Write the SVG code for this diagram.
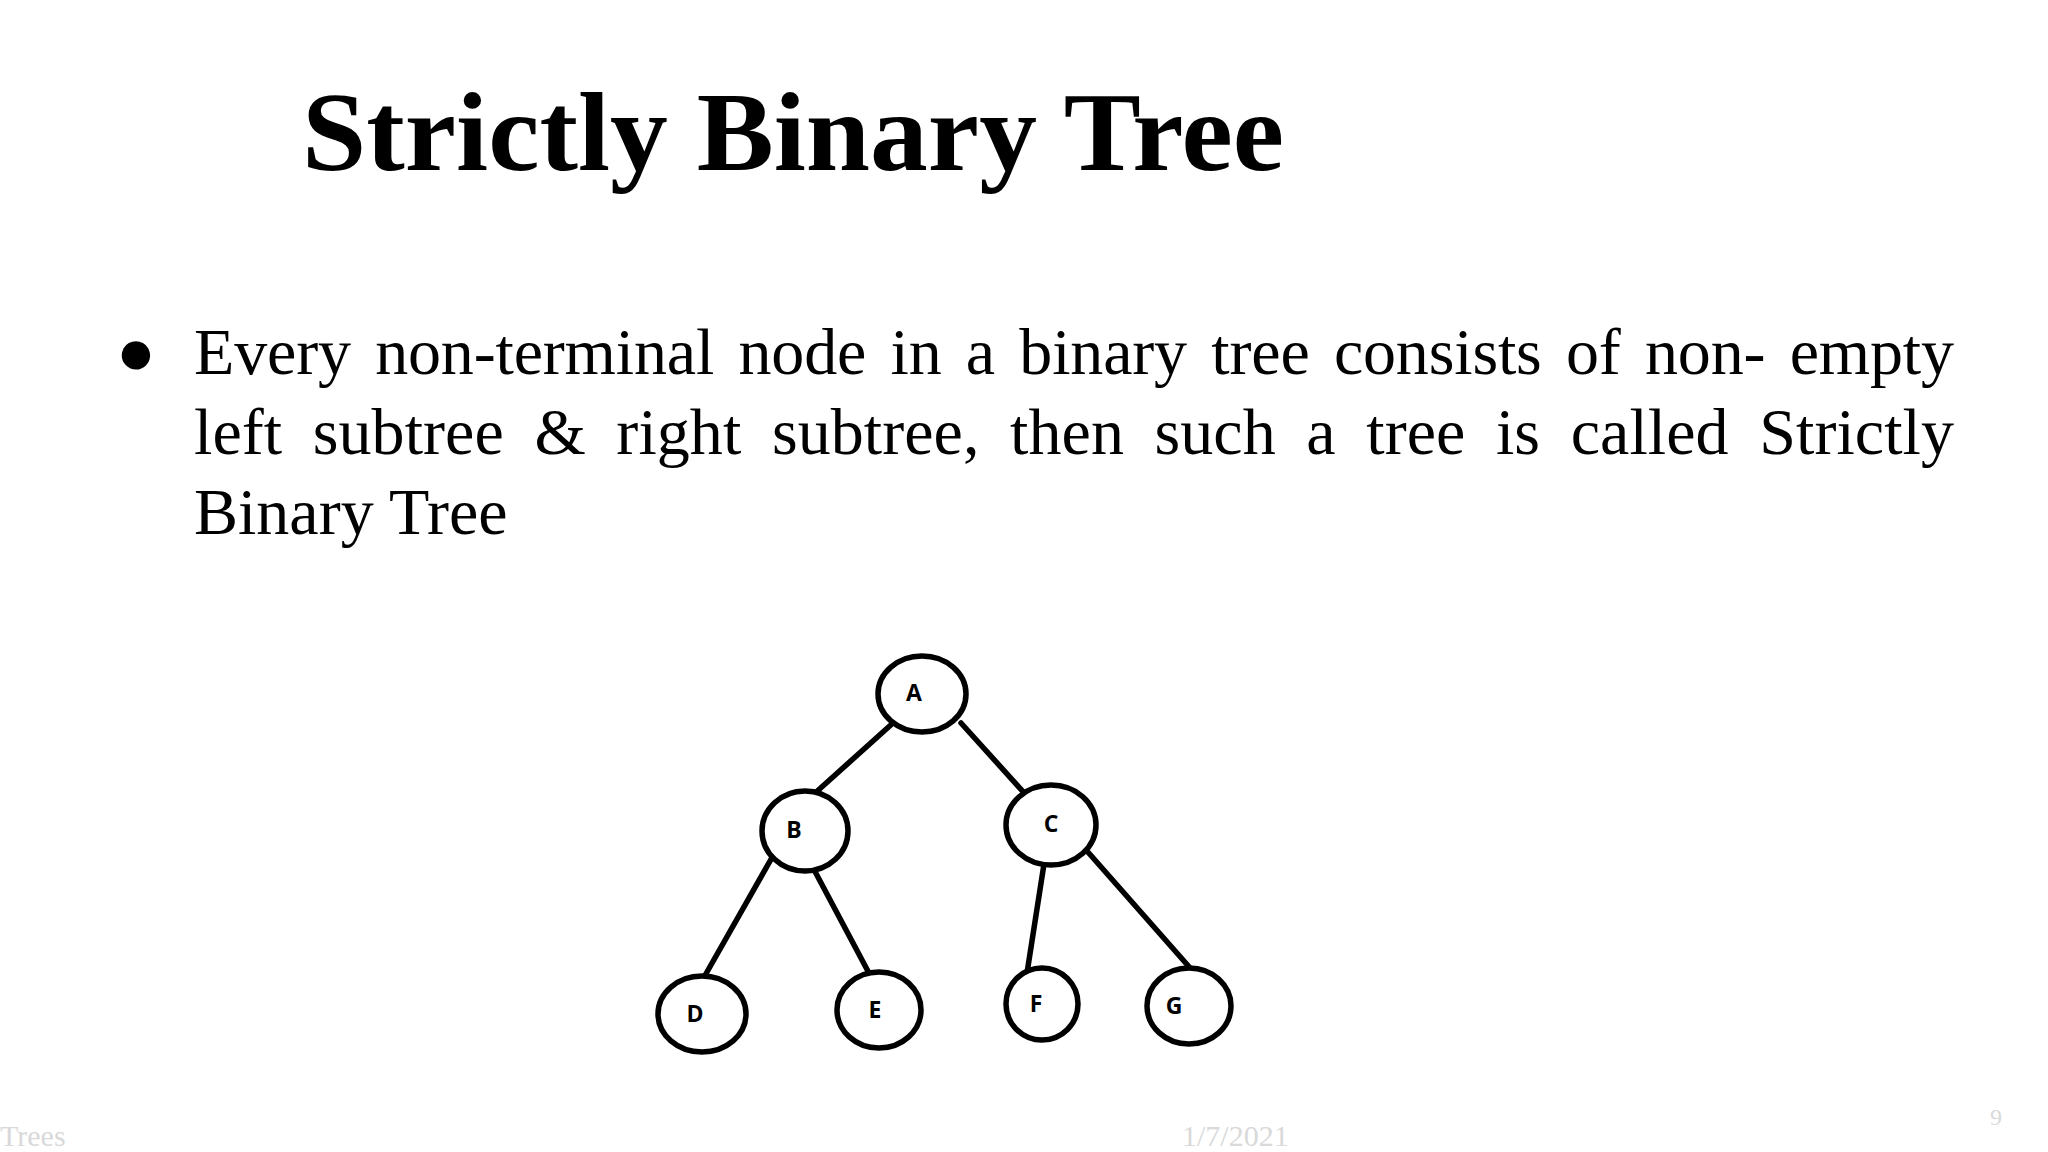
<svg xmlns="http://www.w3.org/2000/svg" width="2048" height="1152" viewBox="0 0 2048 1152">
<style>
.n ellipse{fill:#fff;stroke:#000;stroke-width:5.5}
.n text{font-family:"Open Sans","DejaVu Sans",sans-serif;font-weight:bold;font-size:23px;text-anchor:middle}
.e line{stroke:#000;stroke-width:5.5;stroke-linecap:round}
.b{font-family:"Liberation Serif",serif;font-size:66px}
.f{font-family:"Liberation Serif",serif;fill:#d9d9d9}
</style>
<rect width="2048" height="1152" fill="#fff"/>
<text x="302" y="170" font-family="Liberation Serif,serif" font-weight="bold" font-size="112" textLength="982" lengthAdjust="spacingAndGlyphs">Strictly Binary Tree</text>
<text x="116" y="374" class="b" font-size="50">●</text>
<text x="194" y="374" class="b" word-spacing="8" textLength="1760">Every non-terminal node in a binary tree consists of non-  empty</text>
<text x="194" y="454" class="b" word-spacing="14" textLength="1760">left subtree &amp; right subtree, then such a tree is  called Strictly</text>
<text x="194" y="534" class="b">Binary Tree</text>
<g class="e">
<line x1="893" y1="723" x2="814" y2="794"/>
<line x1="961" y1="723" x2="1027" y2="796"/>
<line x1="774" y1="854" x2="703" y2="979"/>
<line x1="811" y1="864" x2="870" y2="975"/>
<line x1="1044" y1="864" x2="1027" y2="973"/>
<line x1="1087" y1="851" x2="1191" y2="969"/>
</g>
<g id="A" class="n"><ellipse cx="922" cy="694" rx="44" ry="38"/><text x="914" y="701">A</text></g>
<g id="B" class="n"><ellipse cx="805" cy="831" rx="43" ry="40"/><text x="794" y="838">B</text></g>
<g id="C" class="n"><ellipse cx="1051" cy="825" rx="45" ry="40"/><text x="1051" y="832">C</text></g>
<g id="D" class="n"><ellipse cx="702" cy="1014" rx="44" ry="38"/><text x="695" y="1022">D</text></g>
<g id="E" class="n"><ellipse cx="879" cy="1010" rx="42" ry="38"/><text x="875" y="1018">E</text></g>
<g id="F" class="n"><ellipse cx="1042" cy="1004" rx="36" ry="36"/><text x="1036" y="1012">F</text></g>
<g id="G" class="n"><ellipse cx="1189" cy="1006" rx="42" ry="38"/><text x="1174" y="1014">G</text></g>
<text x="0" y="1146" class="f" font-size="30">Trees</text>
<text x="1182" y="1146" class="f" font-size="30">1/7/2021</text>
<text x="1990" y="1125" class="f" font-size="24">9</text>
</svg>
